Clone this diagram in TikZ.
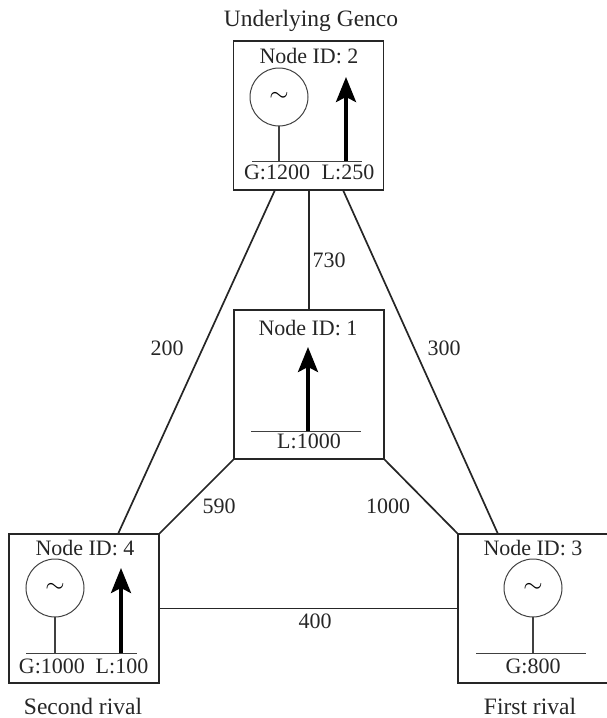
\documentclass[tikz,border=0pt]{standalone}
\usepackage{fontspec}
\setmainfont{Liberation Serif}
\usetikzlibrary{arrows.meta}
\tikzset{
 netbox/.style={draw=black!85,line width=1.6pt,minimum width=150pt,minimum height=149pt,inner sep=0pt,outer sep=0pt},
 txt/.style={inner sep=0pt,font=\fontsize{22}{24}\selectfont,text=black!85},
 title/.style={inner sep=0pt,font=\fontsize{23.5}{26}\selectfont,text=black!85},
 gen/.style={draw=black!75,line width=1pt,circle,minimum size=58pt,inner sep=0pt,outer sep=0pt,font=\fontsize{38}{38}\selectfont},
 link/.style={draw=black!85,line width=1.7pt},
 bus/.style={draw=black!75,line width=1pt},
 stem/.style={draw=black!75,line width=1.2pt},
 load/.style={draw=black,line width=3.4pt,-{Stealth[length=25pt,width=20pt,inset=5pt]}},
}
\begin{document}
\begin{tikzpicture}[x=1pt,y=-1pt]
\useasboundingbox (0,0) rectangle (607,718);
\node[netbox] (n2) at (308.5,115.5) {};
\node[netbox] (n1) at (309,384.5) {};
\node[netbox] (n4) at (84,608.5) {};
\node[netbox] (n3) at (533,608.5) {};
% titles
\node[title] (t2) at (311,21) {Underlying Genco};
\node[title] (t4) at (83,706) {Second rival};
\node[title] (t3) at (530,706) {First rival};
\node[txt] (id2) at (309,56) {Node ID: 2};
\node[txt] (id1) at (308,328) {Node ID: 1};
\node[txt] (id4) at (85,548) {Node ID: 4};
\node[txt] (id3) at (533,548) {Node ID: 3};
% links
\draw[link] ([xshift=-33.5pt]n2.south) -- ([xshift=34pt]n4.north);
\node[txt] (w24) at (167,348) {200};
\draw[link] (n2.south -| n1.north) -- (n1.north);
\node[txt] (w21) at (329,260) {730};
\draw[link] ([xshift=34.5pt]n2.south) -- ([xshift=-35pt]n3.north);
\node[txt] (w23) at (444,348) {300};
\draw[link] (n1.south west) -- (n4.north east);
\node[txt] (w14) at (219,506) {590};
\draw[link] (n1.south east) -- (n3.north west);
\node[txt] (w13) at (388,506) {1000};
\draw[link] (n4.east) -- (n3.west);
\node[txt] (w43) at (315,621) {400};
% node 2
\node[gen] (g2) at (279,97) {$\sim$};
\coordinate (b2) at (279,161);
\draw[stem] (g2.south) -- (b2);
\draw[bus] (252,161) -- (362,161);
\draw[load] (346,161) -- (346,77);
\node[txt] (l2g) at (277,172) {G:1200};
\node[txt] (l2l) at (348,172) {L:250};
% node 1
\draw[bus] (251,431) -- (361,431);
\draw[load] (308,431) -- (308,347);
\node[txt] (l1) at (309,441) {L:1000};
% node 4
\node[gen] (g4) at (55,588) {$\sim$};
\coordinate (b4) at (55,653);
\draw[stem] (g4.south) -- (b4);
\draw[bus] (26,653) -- (137,653);
\draw[load] (121,653) -- (121,568);
\node[txt] (l4g) at (52,666) {G:1000};
\node[txt] (l4l) at (122,666) {L:100};
% node 3
\node[gen] (g3) at (533,588) {$\sim$};
\coordinate (b3) at (533,653);
\draw[stem] (g3.south) -- (b3);
\draw[bus] (476,653) -- (586,653);
\node[txt] (l3g) at (533,666) {G:800};
\end{tikzpicture}
\end{document}
